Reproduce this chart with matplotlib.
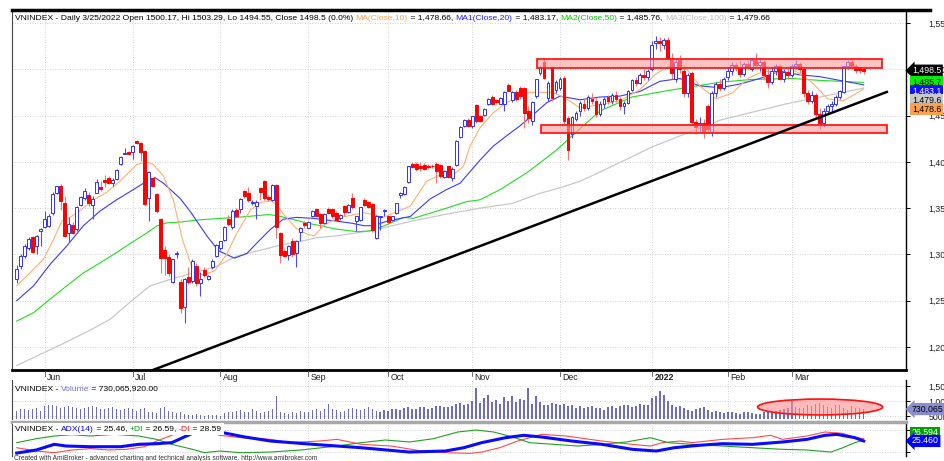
import matplotlib
matplotlib.use("Agg")
import matplotlib.pyplot as plt
from matplotlib.lines import Line2D
from matplotlib.patches import Rectangle, Ellipse
from matplotlib.transforms import blended_transform_factory, offset_copy
from matplotlib.offsetbox import TextArea, HPacker, AnchoredOffsetbox

plt.rcParams['font.family'] = ['Liberation Sans', 'DejaVu Sans']

# ---- daily bars, 21 May 2021 .. 25 Mar 2022 ----
opens = [
    1273, 1287, 1298, 1307, 1319, 1309, 1325, 1330, 1331, 1345,
    1366, 1374, 1356, 1323, 1332, 1327, 1353, 1361, 1364, 1353,
    1366, 1373, 1380, 1383, 1377, 1381, 1398, 1409, 1411, 1411,
    1423, 1420, 1412, 1361, 1382, 1365, 1338, 1305, 1297, 1270,
    1300, 1270, 1243, 1276, 1271, 1288, 1269, 1283, 1273, 1286,
    1298, 1307, 1316, 1338, 1330, 1348, 1349, 1368, 1366, 1356,
    1352, 1372, 1379, 1362, 1359, 1375, 1323, 1304, 1299, 1314,
    1301, 1324, 1334, 1329, 1341, 1349, 1344, 1334, 1349, 1349,
    1345, 1339, 1352, 1346, 1361, 1336, 1337, 1359, 1357, 1354,
    1318, 1340, 1347, 1341, 1337, 1345, 1364, 1365, 1378, 1398,
    1398, 1396, 1397, 1395, 1396, 1398, 1397, 1384, 1395, 1382,
    1397, 1427, 1439, 1445, 1439, 1461, 1449, 1451, 1462, 1470,
    1467, 1463, 1463, 1483, 1467, 1475, 1480, 1480, 1455, 1444,
    1471, 1496, 1508, 1469, 1502, 1478, 1480, 1491, 1447, 1430,
    1446, 1455, 1462, 1458, 1468, 1466, 1452, 1463, 1470, 1466,
    1472, 1468, 1460, 1464, 1478, 1488, 1485, 1494, 1492,
    1500, 1528, 1530, 1526, 1532, 1512, 1490, 1510, 1498, 1474,
    1496, 1443, 1440, 1442, 1460, 1432, 1474, 1484, 1480,
    1492, 1498, 1505, 1502, 1495, 1506, 1500, 1510, 1505, 1508,
    1494, 1486, 1498, 1503, 1490, 1497,
    1494, 1504, 1506, 1500, 1474, 1466, 1472, 1452, 1442, 1455,
    1460, 1462, 1470, 1475, 1504, 1508, 1503, 1502, 1500.17,
]
highs = [
    1289, 1300, 1311, 1319, 1320, 1321, 1328, 1347, 1344, 1367,
    1374, 1376, 1363, 1340, 1335, 1352, 1363, 1372, 1367, 1363,
    1381, 1379, 1386, 1385, 1383, 1392, 1406, 1415, 1412, 1418,
    1424, 1421, 1413, 1390, 1383, 1366, 1339, 1309, 1300, 1295,
    1304, 1273, 1275, 1286, 1295, 1291, 1281, 1286, 1278, 1295,
    1311, 1315, 1331, 1343, 1349, 1350, 1361, 1370, 1373, 1359,
    1359, 1373, 1380, 1364, 1376, 1376, 1324, 1306, 1310, 1318,
    1316, 1330, 1336, 1336, 1348, 1350, 1345, 1345, 1351, 1350,
    1347, 1344, 1353, 1354, 1366, 1342, 1351, 1361, 1358, 1355,
    1343, 1342, 1349, 1342, 1341, 1356, 1367, 1374, 1396, 1400,
    1400, 1400, 1399, 1398, 1398, 1400, 1398, 1391, 1396, 1394,
    1424, 1439, 1446, 1447, 1450, 1462, 1451, 1458, 1469, 1472,
    1468, 1470, 1476, 1485, 1476, 1478, 1482, 1481, 1460, 1466,
    1490, 1504, 1511, 1487, 1504, 1488, 1492, 1493, 1450, 1450,
    1455, 1466, 1468, 1472, 1474, 1470, 1466, 1470, 1472, 1474,
    1476, 1470, 1466, 1478, 1490, 1492, 1496, 1500, 1500,
    1530, 1536, 1535, 1534, 1535, 1518, 1512, 1515, 1502, 1496,
    1498, 1446, 1448, 1446, 1462, 1476, 1486, 1490, 1492,
    1502, 1508, 1508, 1510, 1508, 1510, 1512, 1518, 1512, 1510,
    1500, 1502, 1506, 1506, 1500, 1502,
    1506, 1510, 1508, 1502, 1478, 1476, 1474, 1458, 1458, 1462,
    1466, 1472, 1478, 1504, 1510, 1512, 1506, 1504, 1503.29,
]
lows = [
    1269, 1284, 1296, 1305, 1301, 1300, 1309, 1329, 1330, 1343,
    1365, 1348, 1320, 1313, 1322, 1325, 1352, 1359, 1352, 1338,
    1366, 1368, 1373, 1376, 1374, 1380, 1397, 1408, 1408, 1403,
    1419, 1401, 1352, 1336, 1373, 1345, 1280, 1278, 1277, 1269,
    1296, 1237, 1226, 1268, 1269, 1266, 1255, 1276, 1272, 1284,
    1297, 1305, 1315, 1331, 1327, 1340, 1345, 1361, 1357, 1353,
    1338, 1359, 1359, 1358, 1358, 1318, 1291, 1297, 1294, 1297,
    1286, 1315, 1329, 1328, 1340, 1340, 1329, 1333, 1344, 1339,
    1336, 1337, 1342, 1345, 1349, 1325, 1336, 1352, 1350, 1324,
    1317, 1326, 1341, 1333, 1336, 1344, 1361, 1364, 1377, 1393,
    1390, 1390, 1391, 1392, 1393, 1377, 1383, 1383, 1383, 1379,
    1396, 1426, 1438, 1438, 1437, 1442, 1443, 1450, 1461, 1461,
    1463, 1462, 1455, 1476, 1465, 1466, 1468, 1437, 1442, 1440,
    1469, 1494, 1489, 1466, 1466, 1474, 1478, 1440, 1402, 1426,
    1444, 1450, 1455, 1456, 1463, 1448, 1450, 1458, 1462, 1462,
    1465, 1456, 1452, 1462, 1476, 1482, 1484, 1488, 1488,
    1498, 1522, 1520, 1522, 1510, 1490, 1486, 1496, 1470, 1470,
    1440, 1430, 1432, 1426, 1432, 1428, 1470, 1476, 1478,
    1488, 1494, 1498, 1492, 1493, 1500, 1498, 1502, 1498, 1490,
    1480, 1484, 1494, 1488, 1486, 1490,
    1492, 1500, 1496, 1470, 1462, 1464, 1448, 1436, 1438, 1452,
    1454, 1460, 1468, 1474, 1500, 1500, 1496, 1496, 1494.55,
]
closes = [
    1284, 1298, 1309, 1317, 1303, 1320, 1327, 1338, 1341, 1365,
    1374, 1358, 1320, 1333, 1323, 1351, 1362, 1368, 1356, 1360,
    1378, 1371, 1378, 1377, 1380, 1391, 1405, 1410, 1409, 1417,
    1420, 1411, 1354, 1389, 1374, 1347, 1296, 1296, 1280, 1295,
    1301, 1242, 1273, 1270, 1293, 1269, 1273, 1278, 1277, 1293,
    1310, 1314, 1330, 1333, 1347, 1341, 1360, 1363, 1359, 1357,
    1357, 1367, 1361, 1360, 1375, 1330, 1299, 1298, 1309, 1300,
    1314, 1328, 1332, 1335, 1347, 1341, 1334, 1344, 1345, 1341,
    1337, 1343, 1346, 1353, 1351, 1341, 1351, 1353, 1351, 1326,
    1342, 1342, 1348, 1335, 1341, 1355, 1366, 1373, 1395, 1394,
    1392, 1393, 1392, 1394, 1395, 1390, 1385, 1390, 1384, 1392,
    1423, 1438, 1445, 1439, 1449, 1444, 1444, 1457, 1468, 1462,
    1465, 1469, 1475, 1477, 1475, 1468, 1471, 1453, 1447, 1465,
    1489, 1502, 1491, 1485, 1469, 1486, 1490, 1444, 1413, 1448,
    1453, 1464, 1458, 1470, 1466, 1452, 1463, 1468, 1466, 1472,
    1468, 1460, 1464, 1476, 1488, 1485, 1494, 1492, 1498,
    1526, 1530, 1528, 1532, 1512, 1496, 1508, 1500, 1474, 1494,
    1443, 1438, 1442, 1432, 1435, 1474, 1484, 1480, 1490,
    1498, 1505, 1502, 1495, 1506, 1502, 1510, 1505, 1508, 1494,
    1486, 1498, 1503, 1490, 1497, 1494,
    1504, 1506, 1500, 1474, 1466, 1472, 1452, 1442, 1455, 1460,
    1462, 1470, 1476, 1503, 1508, 1503, 1499, 1499, 1498.5,
]
# volume, millions of shares
volume = [
    660, 720, 740, 690, 730, 760, 680,
    820, 860, 880, 830, 760, 800, 850, 810, 770, 740, 760, 800, 820, 790, 750, 730, 770, 810, 750, 700, 740, 770,
    720, 680, 740, 780, 650, 630, 610, 760, 800, 670, 620, 590, 630, 570, 550, 530, 560, 540, 510, 550, 530, 540,
    510, 590, 630, 650, 670, 690, 630, 650, 730, 670, 610, 650, 680, 730, 1170, 630, 590, 570, 650, 610, 670, 630,
    650, 710, 730, 680, 750, 900, 720, 690, 630, 680, 730, 770, 720, 690, 750, 810, 730, 670, 650, 710,
    680, 730, 750, 710, 770, 790, 730, 750, 810, 790, 730, 770, 830, 850, 810, 790, 830, 890, 930, 870, 910,
    1000, 1440, 920, 1100, 1200, 980, 1050, 900, 1120, 1000, 1180, 960, 1080, 1020, 1440, 900, 1180, 960, 880, 860, 920, 900,
    860, 900, 820, 880, 780, 840, 760, 800, 820, 780, 760, 700, 800, 840, 760, 820, 860, 880, 800, 840, 900, 880, 860,
    1100, 1180, 1330, 1200, 1000, 880, 800, 840, 760, 700, 680, 740, 780, 800, 700, 640, 680, 620, 600,
    640, 620, 600, 580, 620, 640, 600, 580, 560, 620, 640, 680, 660, 700, 720, 760,
    1000, 800, 780, 760, 880, 820, 900, 940, 860, 800, 780, 880, 860, 760, 700, 820, 760, 780, 730.066,
]

# moving averages as (bar, value) points
ma10_x = [0, 3.3, 6.7, 9.2, 11.3, 13.3, 15.8, 19.2, 22.5, 25, 27.5, 30, 32.5, 34.2, 36.7, 39.2, 41.5, 44,
          46.5, 49.5, 52.5, 55, 58.5, 61, 63.5, 65, 66.7, 70, 72.6, 74.5, 76.8, 80, 83.4, 86.8, 89.3, 91.8,
          95, 98.5, 102.6, 106, 109.3, 111.8, 113.5, 116, 119.3, 122.6, 125.9, 128.4, 134.3, 137.7, 141,
          146, 151, 156, 160, 164, 167, 171, 175, 179, 183, 187, 191, 195, 199, 203, 207, 212]
ma10_y = [1266, 1280, 1295, 1316, 1336, 1340, 1347, 1359, 1367, 1376, 1386, 1397, 1400, 1397, 1385, 1359, 1316, 1284,
          1278, 1282, 1300, 1322, 1348, 1356, 1358, 1354, 1344, 1328, 1322, 1320, 1331, 1339, 1342, 1345, 1343, 1340,
          1346, 1352, 1379, 1386, 1386, 1395, 1417, 1437, 1453, 1464, 1471, 1475, 1475, 1468, 1458,
          1462, 1466, 1478, 1495, 1505, 1504, 1482, 1468, 1474, 1490, 1498, 1496, 1498, 1486, 1468, 1466, 1478.66]
ma20_x = [0, 4.2, 8.3, 12.5, 16.7, 20.9, 25, 29.2, 32.5, 34.6, 36.7, 39, 41, 43.5, 47.6, 50.5, 54.5, 57.6, 60.5,
          63.5, 66.7, 70, 74, 80, 83.4, 87, 89.5, 92, 95, 98.5, 103.5, 107.6, 111, 116, 119.3, 122.6, 126, 129.3,
          132.7, 136, 141, 146, 151, 156, 161, 166, 171, 176, 181, 186, 191, 196, 201, 206, 212]
ma20_y = [1250, 1266, 1289, 1309, 1331, 1347, 1359, 1370, 1379, 1383, 1377, 1368, 1360, 1346, 1320, 1304, 1296, 1301, 1314,
          1327, 1338, 1340, 1339, 1336, 1334, 1331, 1331, 1335, 1338, 1341, 1360, 1370, 1377, 1402, 1417, 1428, 1439, 1451,
          1464, 1471, 1467, 1470, 1471, 1476, 1487, 1490, 1482, 1480, 1484, 1490, 1498, 1494, 1492, 1488, 1483.17]
ma50_x = [0, 4.2, 8.3, 12.5, 16.7, 20.9, 25, 29.2, 32.5, 35, 37.5, 41, 46, 55, 59, 63, 65, 69, 72, 76, 80, 85.4,
          88.8, 92.6, 96.8, 99.3, 107.6, 112.6, 116, 121, 124.3, 127.6, 131, 135.2, 139, 146, 154, 163, 176, 184,
          194, 201, 212]
ma50_y = [1228, 1237, 1251.5, 1266, 1280, 1291, 1302, 1314, 1323, 1330.6, 1334, 1335, 1337.5, 1340, 1341.5, 1343, 1342,
          1338, 1334.5, 1331, 1327.3, 1324.5, 1325.5, 1332, 1340, 1339, 1350, 1357, 1359, 1370, 1379, 1388, 1399, 1413,
          1428, 1455, 1470, 1477, 1486, 1489, 1490, 1488, 1485.76]
ma100_x = [0, 10.8, 18.3, 23.4, 29.2, 33.4, 38.4, 41.7, 50, 55, 66, 72, 75, 80, 88.5, 99, 107, 116, 124, 131, 136,
           141, 147, 159, 176, 193, 201, 212]
ma100_y = [1180, 1202, 1218, 1230, 1251.5, 1266, 1273, 1277, 1287, 1298, 1310, 1315, 1318, 1320, 1325.5, 1336, 1343,
           1350, 1355, 1366, 1372, 1379, 1391, 1416, 1445, 1463, 1470, 1479.66]

# ADX(14), +DI, -DI
adx_x = [0, 4.9, 9.4, 12.4, 18.4, 26, 30.5, 35, 38.8, 44, 47, 50.8, 57, 63.6, 74.2, 86.2, 98.3, 107.3, 111.9,
         116.4, 122.4, 126.9, 131.4, 139, 146.5, 154.1, 160.1, 164.6, 170.6, 176.7, 184.2, 191.7, 197.8,
         202.3, 205.3, 209.8, 212]
adx_y = [9, 13.2, 20.9, 18.6, 17.7, 17.7, 20.9, 21.8, 23.2, 36, 41, 37.7, 31, 25.4, 20.9, 16.3, 10.4, 11.8, 16.3,
         23.2, 30, 33.2, 30.9, 25.4, 20.9, 14.1, 11.8, 16.3, 19.5, 21.8, 20.9, 24.1, 27.7,
         33.2, 34.5, 30, 25.46]
pdi_x = [0, 4.9, 9.4, 13.9, 18.4, 24.5, 30.5, 35, 38.8, 44, 47, 50.8, 56.1, 63.6, 71.2, 80.2, 86.2, 92.3, 98.3,
         104.3, 110.4, 114.9, 119.4, 123.9, 128.4, 134.5, 140.5, 146.5, 152.6, 158.6, 163.1, 169.1, 176.7, 184.2,
         191.7, 197.8, 203.8, 206.8, 209.8, 212]
pdi_y = [23.2, 28.6, 32.3, 34.1, 32.3, 34.5, 32.3, 27.7, 20.9, 14.1, 9.5, 11.8, 9.5, 10.4, 13.2, 18.6, 23.2, 26.8, 24.1,
         28.6, 37.7, 40.4, 37.7, 31.3, 23.2, 20.9, 18.6, 20.9, 24.1, 30, 23.2, 20.9, 18.6, 16.3,
         14.1, 13.2, 10.4, 16.3, 23.2, 26.59]
mdi_x = [0, 4.9, 9.4, 13.9, 18.4, 23, 27.5, 32, 35, 38.8, 43, 46, 50.8, 56.1, 63.6, 68.2, 75.7, 80.2, 86.2, 93.8,
         101.3, 107.3, 113.4, 116.4, 120.9, 125.4, 131.4, 137.5, 140.5, 146.5, 154.1, 158.6, 161.6, 166.1, 169.1,
         176.7, 184.2, 188.7, 191.7, 197.8, 202.3, 206.8, 209.8, 212]
mdi_y = [16.3, 11.8, 9.5, 13.2, 15, 13.2, 14.1, 17.7, 25.4, 33.2, 42, 42, 33.2, 30, 27.7, 23.2, 25.4, 27.7, 20.9, 18.6,
         11.8, 9.5, 8.6, 10.4, 16.3, 25.4, 34.5, 32.3, 30, 25.4, 20.9, 18.6, 23.2, 25.4, 23.2,
         27.7, 30, 33.2, 27.7, 32.3, 37.7, 35.9, 30, 28.59]

# calendar
month_idx = [7, 29, 51, 73, 93, 114, 136, 159, 178, 194]
month_lbl = ['Jun', 'Jul', 'Aug', 'Sep', 'Oct', 'Nov', 'Dec', '2022', 'Feb', 'Mar']
price_ticks = [1200, 1250, 1300, 1350, 1400, 1450, 1500, 1550]

# hand drawn studies
box_top = (130.2, 216.6, 1501, 1511)      # x0, x1, p0, p1
box_bottom = (131.2, 217.8, 1430.8, 1439.8)
trend_x = [33.4, 217.8]
trend_y = [1174, 1475.5]
vol_ellipse = (201.1, 800, 31.3, 530)     # centre x, centre y, width, height

W, H = 944, 461
XMIN, XMAX = -1.18, 222.6
fig = plt.figure(figsize=(W / 100, H / 100), dpi=100)


def pane(top, bottom):
    a = fig.add_axes([12 / W, 1 - bottom / H, 894 / W, (bottom - top) / H])
    a.patch.set_alpha(0)
    return a


ax = pane(10, 370)
axv = pane(380, 419)
axa = pane(423, 456)

n = len(closes)
xs = list(range(n))
grid_kw = dict(color='#c4c4c4', lw=0.6, ls=(0, (1, 2)), zorder=0)

for a in (ax, axv, axa):
    a.set_xlim(XMIN, XMAX)
    for m in month_idx:
        a.axvline(m, **grid_kw)
    a.set_xticks([])
    a.tick_params(axis='y', right=True, left=False, labelleft=False, labelright=True,
                  length=3, width=0.7, pad=13, labelsize=6.3, labelcolor='#222222')
    for s in ('top', 'bottom'):
        a.spines[s].set_visible(False)
    a.spines['left'].set_color('#444444')
    a.spines['left'].set_linewidth(0.8)
    a.spines['right'].set_color('black')
    a.spines['right'].set_linewidth(1.0)

# ---- price pane ----
ax.set_ylim(1175.15, 1564.0)
ax.set_yticks(price_ticks)
ax.set_yticklabels([f'{p:,}' for p in price_ticks])
for p in price_ticks:
    ax.axhline(p, **grid_kw)
ax.spines['bottom'].set_visible(True)
ax.spines['bottom'].set_linewidth(2)

for i in xs:
    o, h, l, c = opens[i], highs[i], lows[i], closes[i]
    up = c >= o
    ax.vlines(i, l, h, color='#4a4aff' if up else '#ff7070', lw=0.8, zorder=2)
    ax.add_patch(Rectangle((i - 0.36, min(o, c)), 0.72, max(abs(c - o), 0.6),
                           facecolor='white' if up else '#ff0000',
                           edgecolor='#3030ff' if up else '#ff0000', lw=0.7, zorder=3))

ax.plot(ma100_x, ma100_y, color='#c8c8c8', lw=0.9, zorder=1)
ax.plot(ma50_x, ma50_y, color='#22dd22', lw=0.8, zorder=1)
ax.plot(ma20_x, ma20_y, color='#3a3aff', lw=0.8, zorder=1)
ax.plot(ma10_x, ma10_y, color='#ffb070', lw=0.8, zorder=1)

for x0, x1, p0, p1 in (box_top, box_bottom):
    ax.add_patch(Rectangle((x0, p0), x1 - x0, p1 - p0, facecolor='#ff9a9a', alpha=0.6,
                           edgecolor='none', zorder=4))
    ax.add_patch(Rectangle((x0, p0), x1 - x0, p1 - p0, facecolor='none',
                           edgecolor='#ff1a1a', lw=1.3, zorder=4))
ax.plot(trend_x, trend_y, color='black', lw=1.8, zorder=5)

# month labels in the strip under the price pane
for m, lbl in zip(month_idx, month_lbl):
    px = 12 + (m - XMIN) / (XMAX - XMIN) * 894
    fig.add_artist(Line2D([px / W] * 2, [1 - 371 / H, 1 - 376 / H], color='#555555', lw=0.6))
    fig.text((px + 2.5) / W, 1 - 377 / H, lbl, fontsize=6.3, va='center', ha='left',
             fontweight='bold' if lbl == '2022' else 'normal', color='#222222', zorder=30)

# ---- volume pane ----
axv.set_ylim(400, 1700)
axv.bar(xs, [v - 400 for v in volume], bottom=400, width=0.38, color='#6c6cc0', zorder=2)
axv.set_yticks([500, 1000, 1500])
axv.set_yticklabels(['500M', '1,000M', '1,500M'])
for v in (500, 1000, 1500):
    axv.axhline(v, **grid_kw)
ex, ey, ew, eh = vol_ellipse
axv.add_patch(Ellipse((ex, ey), ew, eh, facecolor='#ff8f8f', alpha=0.6, edgecolor='none', zorder=3))
axv.add_patch(Ellipse((ex, ey), ew, eh, facecolor='none', edgecolor='#ff1010', lw=1.2, zorder=3))

# ---- ADX pane ----
axa.set_ylim(5, 50)
axa.set_yticks([10, 40])
axa.set_yticklabels(['', ''])
for v in (10, 40):
    axa.axhline(v, **grid_kw)
axa.plot(mdi_x, mdi_y, color='#ff4a4a', lw=0.8, zorder=2)
axa.plot(pdi_x, pdi_y, color='#22a022', lw=0.8, zorder=2)
axa.plot(adx_x, adx_y, color='#0a0aff', lw=2.2, zorder=3)

# frame lines
fig.add_artist(Line2D([12 / W, 930 / W], [1 - 10 / H] * 2, color='black', lw=2.5))
fig.add_artist(Line2D([12 / W, 906 / W], [1 - 421.5 / H] * 2, color='#a8a8a8', lw=2.5))


def title(parts, x, y, size=6.1, bg=None):
    kids = [TextArea(t, textprops=dict(color=c, fontsize=size)) for t, c in parts]
    pack = HPacker(children=kids, align='baseline', pad=0, sep=0)
    box = AnchoredOffsetbox(loc='center left', child=pack, pad=0.15, borderpad=0,
                            frameon=bg is not None, bbox_to_anchor=(x / W, 1 - y / H),
                            bbox_transform=fig.transFigure)
    if bg is not None:
        box.patch.set(facecolor=bg, edgecolor='none')
    box.set_zorder(10)
    fig.add_artist(box)


title([('VNINDEX - Daily 3/25/2022 Open 1500.17, Hi 1503.29, Lo 1494.55, Close 1498.5 (0.0%) ', 'black'),
       ('MA(Close,10)', '#ffa050'), (' = 1,478.66, ', 'black'),
       ('MA1(Close,20)', '#2020ff'), (' = 1,483.17, ', 'black'),
       ('MA2(Close,50)', '#00cc00'), (' = 1,485.76, ', 'black'),
       ('MA3(Close,100)', '#c0c0c0'), (' = 1,479.66', 'black')], 13, 18)
title([('VNINDEX - ', 'black'), ('Volume', '#7070c0'), (' = 730,065,920.00', 'black')], 13, 389)
title([('VNINDEX - ', 'black'), ('ADX(14)', '#0000ff'), (' = 25.46, ', 'black'),
       ('+DI', '#00a000'), (' = 26.59, ', 'black'), ('-DI', '#ff0000'), (' = 28.59', 'black')],
      13, 429, bg='white')

fig.text(14 / W, 1 - 458 / H,
         'Created with AmiBroker - advanced charting and technical analysis software. http://www.amibroker.com',
         fontsize=4.8, va='center', ha='left', color='#333333')


# value tags on the right-hand axis
def tag(a, y_val, text, fc, tc, dy=0, arrow=False):
    tr = blended_transform_factory(a.transAxes, a.transData)
    if dy:
        tr = offset_copy(tr, fig=fig, y=-dy, units='dots')
    a.text(1.0 + 6 / 894, y_val, text, transform=tr, fontsize=6.3, color=tc, va='center',
           ha='left', clip_on=False, zorder=20,
           bbox=dict(boxstyle='larrow,pad=0.18' if arrow else 'square,pad=0.18', fc=fc, ec='none'))


tag(ax, closes[-1], '1,498.5', 'black', 'white', arrow=True)
tag(ax, 1485.76, '1,485.7', '#00ee00', 'black')
tag(ax, 1485.76, '1,483.1', '#1010ff', 'white', dy=9)
tag(ax, 1485.76, '1,479.6', '#c8c8c8', 'black', dy=17.5)
tag(ax, 1485.76, '1,478.6', '#ffa050', 'black', dy=26.5)
tag(axv, volume[-1], '730,065', '#8c8cd0', 'black', arrow=True)
tag(axa, 25.46, '26.594', '#00a000', 'white', dy=-8)
tag(axa, 25.46, '25.460', '#0000ff', 'white', arrow=True)

fig.savefig('out.png', dpi=100)
